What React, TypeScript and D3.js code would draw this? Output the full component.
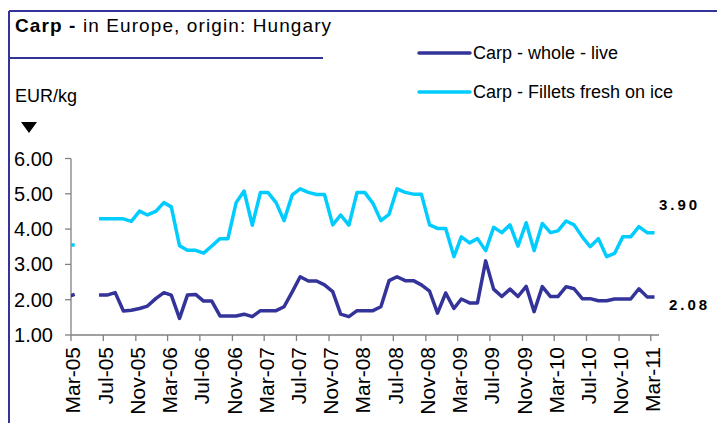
import { useEffect, useRef } from 'react';
import * as d3 from 'd3';

const FONT = '"Liberation Sans", Arial, sans-serif';
const DARK = '#333399';
const CYAN = '#00CCFF';

// months Feb-05 .. Mar-11 (Apr/May-05 missing)
const firstMonth = new Date(2005, 1, 1);
const lastMonth = new Date(2011, 2, 1);

const wholeLive = [
  2.08, 2.15, null, null, 2.13, 2.13, 2.20, 1.68, 1.70, 1.75, 1.82,
  2.03, 2.20, 2.13, 1.47, 2.13, 2.15, 1.96, 1.96, 1.54, 1.54, 1.54, 1.59,
  1.52, 1.69, 1.69, 1.69, 1.80, 2.22, 2.65, 2.53, 2.53, 2.42, 2.23, 1.59,
  1.52, 1.69, 1.69, 1.69, 1.80, 2.54, 2.65, 2.54, 2.54, 2.42, 2.24, 1.62,
  2.19, 1.75, 2.02, 1.91, 1.91, 3.10, 2.30, 2.09, 2.30, 2.09, 2.38, 1.66,
  2.37, 2.09, 2.09, 2.37, 2.31, 2.03, 2.03, 1.97, 1.97, 2.02, 2.02, 2.02,
  2.31, 2.08, 2.08,
];

const filletsOnIce = [
  3.55, 3.55, null, null, 4.29, 4.29, 4.29, 4.29, 4.22, 4.51, 4.40,
  4.50, 4.75, 4.63, 3.53, 3.40, 3.40, 3.32, 3.52, 3.73, 3.73, 4.75, 5.08,
  4.11, 5.04, 5.04, 4.75, 4.24, 4.97, 5.14, 5.04, 4.98, 4.98, 4.12, 4.40,
  4.11, 5.04, 5.04, 4.73, 4.24, 4.42, 5.14, 5.04, 4.99, 4.99, 4.12, 4.02,
  4.02, 3.22, 3.78, 3.61, 3.73, 3.39, 4.05, 3.90, 4.12, 3.52, 4.18, 3.39,
  4.16, 3.90, 3.95, 4.23, 4.12, 3.78, 3.50, 3.73, 3.22, 3.31, 3.78, 3.78,
  4.07, 3.90, 3.90,
];

const tickLabels = [
  'Mar-05', 'Jul-05', 'Nov-05', 'Mar-06', 'Jul-06', 'Nov-06', 'Mar-07',
  'Jul-07', 'Nov-07', 'Mar-08', 'Jul-08', 'Nov-08', 'Mar-09', 'Jul-09',
  'Nov-09', 'Mar-10', 'Jul-10', 'Nov-10', 'Mar-11',
];
const yTicks = [1, 2, 3, 4, 5, 6];

const seriesNames = ['Carp - whole - live', 'Carp - Fillets fresh on ice'];
const lastLabels = ['2.08', '3.90'];

export default function App() {
  const svgRef = useRef<SVGSVGElement | null>(null);

  useEffect(() => {
    if (!svgRef.current) return;
    const W = 717;
    const H = 423;
    const svg = d3.select(svgRef.current);
    svg.selectAll('*').remove();
    svg.attr('width', W).attr('height', H).attr('viewBox', `0 0 ${W} ${H}`);

    const months = d3.timeMonth.range(firstMonth, d3.timeMonth.offset(lastMonth, 1));
    const parse = d3.timeParse('%b-%y');
    const tickDates = tickLabels.map(t => parse(t) as Date);

    const x = d3.scaleTime()
      .domain([new Date(2005, 2, 1), new Date(2011, 3, 1)])
      .range([71, 659]);
    const y = d3.scaleLinear().domain([1, 6]).range([335, 158.5]);

    // frame
    svg.append('line').attr('x1', 9).attr('x2', 9).attr('y1', 11).attr('y2', H)
      .attr('stroke', DARK).attr('stroke-width', 2);
    svg.append('line').attr('x1', 9).attr('x2', W).attr('y1', 11).attr('y2', 11)
      .attr('stroke', DARK).attr('stroke-width', 2);
    svg.append('line').attr('x1', 9).attr('x2', 323).attr('y1', 58).attr('y2', 58)
      .attr('stroke', DARK).attr('stroke-width', 2);

    // title
    const title = svg.append('text')
      .attr('x', 15).attr('y', 32)
      .attr('font-family', FONT).attr('font-size', 19).attr('fill', '#000')
      .attr('letter-spacing', 1.1);
    title.append('tspan').attr('font-weight', 'bold').text('Carp -');
    title.append('tspan').text(' in Europe, origin: Hungary');

    svg.append('text')
      .attr('x', 15).attr('y', 102)
      .attr('font-family', FONT).attr('font-size', 18).attr('fill', '#000')
      .text('EUR/kg');
    svg.append('path')
      .attr('d', 'M21,122 L37,122 L29,133 Z')
      .attr('fill', '#000');

    // legend
    const legend = svg.append('g');
    [DARK, CYAN].forEach((c, i) => {
      const ly = 53 + i * 39;
      legend.append('line')
        .attr('x1', 419).attr('x2', 470).attr('y1', ly).attr('y2', ly)
        .attr('stroke', c).attr('stroke-width', 3.5).attr('stroke-linecap', 'round');
      legend.append('text')
        .attr('x', 473).attr('y', ly).attr('dy', '0.35em')
        .attr('font-family', FONT).attr('font-size', 18).attr('fill', '#000')
        .text(seriesNames[i]);
    });

    // y axis
    const yAxis = svg.append('g');
    yAxis.append('line').attr('x1', 71).attr('x2', 71).attr('y1', y(6)).attr('y2', y(1))
      .attr('stroke', '#808080').attr('stroke-width', 1.3);
    yTicks.forEach(v => {
      yAxis.append('line').attr('x1', 65).attr('x2', 71).attr('y1', y(v)).attr('y2', y(v))
        .attr('stroke', '#808080').attr('stroke-width', 1.3);
      yAxis.append('text')
        .attr('x', 53).attr('y', y(v)).attr('dy', '0.35em')
        .attr('text-anchor', 'end')
        .attr('font-family', FONT).attr('font-size', 20).attr('fill', '#000')
        .text(d3.format('.2f')(v));
    });

    // x axis
    const xAxis = svg.append('g');
    xAxis.append('line').attr('x1', 71).attr('x2', 659).attr('y1', 335).attr('y2', 335)
      .attr('stroke', '#808080').attr('stroke-width', 1.3);
    tickDates.forEach((d, i) => {
      const tx = x(d);
      xAxis.append('line').attr('x1', tx).attr('x2', tx).attr('y1', 335).attr('y2', 341)
        .attr('stroke', '#808080').attr('stroke-width', 1.3);
      xAxis.append('text')
        .attr('transform', `translate(${tx + 2},347) rotate(-90)`)
        .attr('dy', '0.35em')
        .attr('text-anchor', 'end')
        .attr('font-family', FONT).attr('font-size', 21).attr('fill', '#000')
        .text(tickLabels[i]);
    });

    // clip
    svg.append('clipPath').attr('id', 'plot-clip')
      .append('rect').attr('x', 71).attr('y', 0).attr('width', 588).attr('height', H);

    const mid = (d: Date) => d3.timeDay.offset(d, 14);
    const line = d3.line<number | null>()
      .defined(v => v != null)
      .x((_, i) => x(mid(months[i])))
      .y(v => y(v as number));

    const plot = svg.append('g').attr('clip-path', 'url(#plot-clip)');
    [[filletsOnIce, CYAN], [wholeLive, DARK]].forEach(([vals, c]) => {
      plot.append('path')
        .attr('d', line(vals as (number | null)[]))
        .attr('fill', 'none')
        .attr('stroke', c as string)
        .attr('stroke-width', 3.5)
        .attr('stroke-linejoin', 'round');
    });

    // end labels
    svg.append('text')
      .attr('x', 659).attr('y', 205).attr('dy', '0.35em')
      .attr('font-family', FONT).attr('font-size', 15).attr('font-weight', 'bold')
      .attr('letter-spacing', 3).attr('fill', '#000')
      .text(lastLabels[1]);
    svg.append('text')
      .attr('x', 669).attr('y', 305).attr('dy', '0.35em')
      .attr('font-family', FONT).attr('font-size', 15).attr('font-weight', 'bold')
      .attr('letter-spacing', 3).attr('fill', '#000')
      .text(lastLabels[0]);
  }, []);

  return (
    <div style={{ position: 'absolute', left: 0, top: 0, background: '#fff' }}>
      <svg ref={svgRef} style={{ display: 'block' }} />
    </div>
  );
}
